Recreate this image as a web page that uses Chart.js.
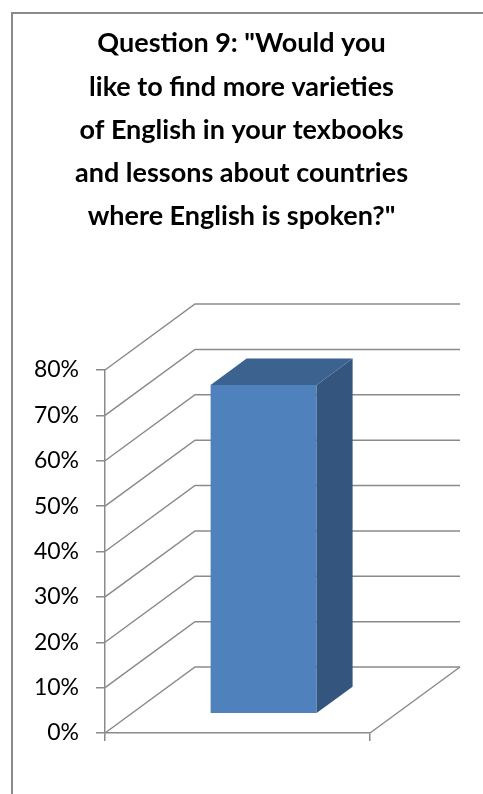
<!DOCTYPE html>
<html>
<head>
<meta charset="utf-8">
<script src="https://cdn.jsdelivr.net/npm/chart.js@4"></script>
<style>
  html, body { margin: 0; padding: 0; background: #fff; }
  #wrap { width: 483px; height: 794px; position: relative; }
</style>
</head>
<body>
<div id="wrap"><canvas id="q9Chart"></canvas></div>
<script>
const categories = [''];
const shares = [0.725];
const tickLabels = ['0%', '10%', '20%', '30%', '40%', '50%', '60%', '70%', '80%'];
const titleLines = [
    'Question 9: "Would you',
    'like to find more varieties',
    'of English in your texbooks',
    'and lessons about countries',
    'where English is spoken?"'
];

const GRID = '#8a8a8a';
// oblique depth of the box and where the bar sits inside it
const WALL_DX = 90, WALL_DY = -66;
const BAR_FRONT = 0.29, BAR_BACK = 0.69;

const box3d = {
    id: 'box3d',
    beforeDraw(chart) {
        const ctx = chart.ctx;
        ctx.save();
        ctx.strokeStyle = GRID;
        ctx.lineWidth = 2;
        ctx.strokeRect(12, 13, 700, 1000);
        ctx.restore();
    },
    beforeDatasetsDraw(chart) {
        const ctx = chart.ctx;
        const y = chart.scales.y;
        const { left, right, bottom } = chart.chartArea;
        ctx.save();
        ctx.strokeStyle = GRID;
        ctx.lineWidth = 1.5;
        y.ticks.forEach(t => {
            const py = y.getPixelForValue(t.value);
            ctx.beginPath();
            ctx.moveTo(left, py);
            ctx.lineTo(left + WALL_DX, py + WALL_DY);
            ctx.lineTo(right + WALL_DX, py + WALL_DY);
            ctx.stroke();
        });
        // right edge of the floor
        ctx.beginPath();
        ctx.moveTo(right, bottom);
        ctx.lineTo(right + WALL_DX, bottom + WALL_DY);
        ctx.stroke();
        ctx.restore();

        // push the front face of the bar back into the box
        ctx.save();
        ctx.translate(WALL_DX * BAR_FRONT, WALL_DY * BAR_FRONT);
    },
    afterDatasetsDraw(chart) {
        const ctx = chart.ctx;
        ctx.restore();
        const fx = WALL_DX * BAR_FRONT, fy = WALL_DY * BAR_FRONT;
        const dx = WALL_DX * (BAR_BACK - BAR_FRONT), dy = WALL_DY * (BAR_BACK - BAR_FRONT);
        chart.getDatasetMeta(0).data.forEach(bar => {
            const p = bar.getProps(['x', 'y', 'base', 'width'], true);
            const l = p.x - p.width / 2 + fx, r = p.x + p.width / 2 + fx;
            const top = p.y + fy, base = p.base + fy;
            // side
            ctx.fillStyle = '#34557d';
            ctx.beginPath();
            ctx.moveTo(r, top);
            ctx.lineTo(r + dx, top + dy);
            ctx.lineTo(r + dx, base + dy);
            ctx.lineTo(r, base);
            ctx.closePath();
            ctx.fill();
            // top
            ctx.fillStyle = '#3c6390';
            ctx.beginPath();
            ctx.moveTo(l, top);
            ctx.lineTo(l + dx, top + dy);
            ctx.lineTo(r + dx, top + dy);
            ctx.lineTo(r, top);
            ctx.closePath();
            ctx.fill();
        });
    }
};

new Chart(document.getElementById('q9Chart'), {
    type: 'bar',
    data: {
        labels: categories,
        datasets: [{
            data: shares,
            backgroundColor: '#4f81bd',
            borderWidth: 0,
            barPercentage: 0.4,
            categoryPercentage: 1
        }]
    },
    options: {
        responsive: true,
        maintainAspectRatio: false,
        animation: false,
        layout: { padding: { left: 0, right: 0, bottom: 51, top: 0 } },
        plugins: {
            legend: { display: false },
            tooltip: { enabled: false },
            title: {
                display: true,
                text: titleLines,
                color: '#000',
                font: { family: 'Lato', size: 27, weight: 'bold', lineHeight: 1.6 },
                padding: { top: 22, bottom: 132 }
            }
        },
        scales: {
            x: {
                type: 'category',
                grid: { offset: true, drawOnChartArea: false, tickLength: 8, color: GRID, lineWidth: 1.5 },
                border: { color: GRID, width: 1.5 },
                ticks: { display: false },
                afterFit(scale) { scale.height = 10; }
            },
            y: {
                min: 0,
                max: 0.8,
                grid: { drawOnChartArea: false, tickLength: 9, color: GRID, lineWidth: 1.5 },
                border: { color: GRID, width: 1.5 },
                ticks: {
                    stepSize: 0.1,
                    color: '#000',
                    padding: 17,
                    font: { family: 'Lato', size: 23 },
                    callback: (v, i) => tickLabels[i]
                },
                afterFit(scale) { scale.width = 105; }
            },
            // empty right-hand gutter that holds the depth of the box
            depth: {
                type: 'linear',
                position: 'right',
                grid: { display: false },
                border: { display: false },
                ticks: { display: false },
                afterFit(scale) { scale.width = 113; }
            }
        }
    },
    plugins: [box3d]
});
</script>
</body>
</html>
